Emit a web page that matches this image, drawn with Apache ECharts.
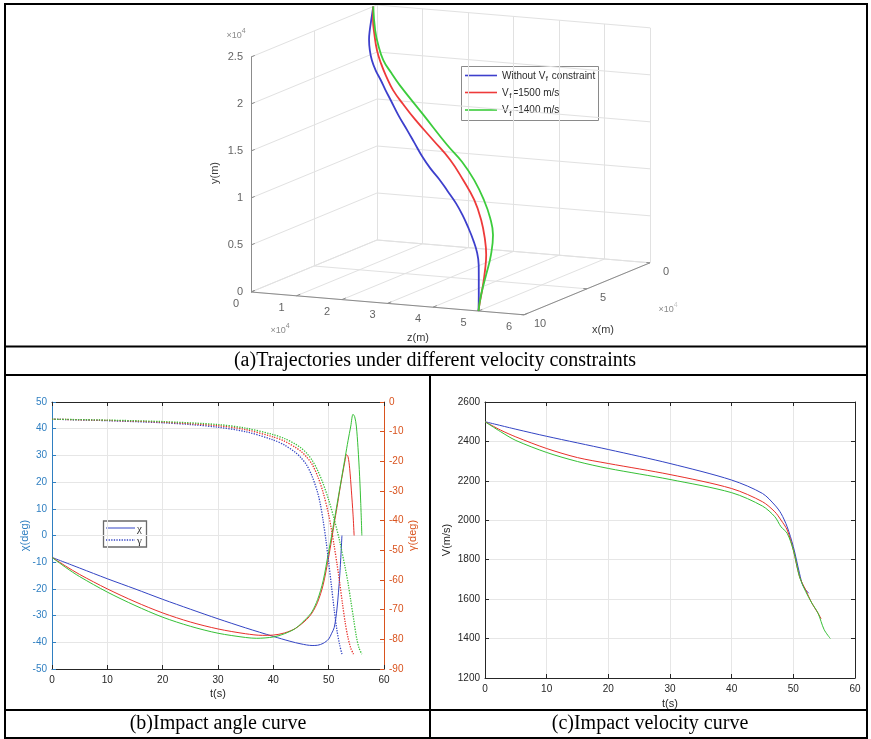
<!DOCTYPE html>
<html>
<head>
<meta charset="utf-8">
<script src="https://cdn.jsdelivr.net/npm/echarts@6/dist/echarts.min.js"></script>
<style>
  html, body { margin: 0; padding: 0; background: #fff; }
  #chart { width: 871px; height: 739px; }
</style>
</head>
<body>
<div id="chart"></div>
<script>
// ---------- (a) 3-D trajectories: z and y in 1e4 m, x in axis units ----------
const zTicks = [0, 1, 2, 3, 4, 5, 6];
const xTicks = [0, 5, 10];
const yTicks = [0, 0.5, 1, 1.5, 2, 2.5];

const noConstraintZ = [0, -0.08, -0.16, -0.20, -0.16, -0.06, 0.12, 0.35, 0.58, 0.82, 1.20, 1.61, 1.95, 2.32, 2.70, 3.12, 3.53, 3.93, 4.24, 4.50, 4.74, 4.93, 5.01, 5.02, 5.02, 5.00];
const noConstraintX = [0.30, 0.14, -0.01, -0.09, -0.01, 0.19, 0.54, 0.97, 1.43, 1.89, 2.63, 3.41, 4.08, 4.80, 5.53, 6.36, 7.15, 7.93, 8.53, 9.03, 9.49, 9.86, 10.02, 10.05, 10.05, 10.00];
const noConstraintY = [2.50, 2.37, 2.23, 2.12, 2.01, 1.92, 1.84, 1.77, 1.70, 1.63, 1.52, 1.42, 1.34, 1.25, 1.18, 1.13, 1.06, 0.99, 0.91, 0.82, 0.72, 0.61, 0.49, 0.37, 0.17, 0];

const vf1500Z = [0, -0.01, 0.06, 0.18, 0.37, 0.61, 0.94, 1.42, 1.99, 2.84, 3.65, 4.26, 4.79, 5.12, 5.31, 5.36, 5.31, 5.21, 5.07, 5.00];
const vf1500X = [0.30, 0.28, 0.42, 0.65, 1.02, 1.48, 2.12, 3.05, 4.15, 5.81, 7.38, 8.57, 9.58, 10.23, 10.60, 10.69, 10.60, 10.42, 10.14, 10.00];
const vf1500Y = [2.50, 2.36, 2.21, 2.06, 1.95, 1.85, 1.75, 1.67, 1.59, 1.50, 1.41, 1.29, 1.15, 0.99, 0.80, 0.65, 0.48, 0.29, 0.11, 0];

const vf1400Z = [0, 0.09, 0.23, 0.47, 0.85, 1.27, 2.37, 3.50, 4.22, 4.79, 5.26, 5.55, 5.69, 5.59, 5.36, 5.12, 5.00];
const vf1400X = [0.30, 0.47, 0.74, 1.20, 1.94, 2.77, 4.89, 7.10, 8.48, 9.58, 10.51, 11.06, 11.34, 11.15, 10.69, 10.23, 10.00];
const vf1400Y = [2.50, 2.26, 2.13, 2.00, 1.92, 1.85, 1.70, 1.55, 1.47, 1.36, 1.22, 1.07, 0.91, 0.68, 0.44, 0.19, 0];

// ---------- (b) impact angle: chi (left axis) and gamma (right axis) ----------
const chiBlueT = [0, 5, 10, 15, 20, 25, 30, 35, 40, 43, 45, 47, 48, 49, 50, 50.5, 51, 51.5, 52, 52.4];
const chiBlue  = [-8.2, -12.2, -16.2, -20.0, -23.9, -27.6, -31.2, -34.6, -37.8, -39.6, -40.6, -41.2, -41.1, -40.4, -38.8, -36.8, -34.5, -27.5, -15.0, 0];
const chiRedT = [0, 2.5, 5, 10, 15, 20, 25, 30, 35, 38, 40, 42, 44, 46, 47, 48, 49, 50, 50.5, 51, 51.5, 52, 52.5, 53, 53.2, 53.5, 53.8, 54.1, 54.4, 54.6];
const chiRed  = [-8.2, -11.5, -14.6, -20.0, -24.8, -29.0, -32.4, -35.0, -36.8, -37.4, -37.3, -36.5, -34.8, -31.5, -29.0, -25.0, -18.5, -8.0, -2.0, 4.5, 10.5, 17.0, 23.0, 28.5, 30.3, 29.5, 25.0, 17.0, 8.0, 0];
const chiGreenT = [0, 2.5, 5, 10, 15, 20, 25, 30, 35, 37, 40, 42, 44, 46, 47, 48, 49, 50, 50.5, 51, 51.5, 52, 52.5, 53, 53.5, 54, 54.4, 54.7, 55, 55.3, 55.6, 55.8, 56];
const chiGreen  = [-8.2, -12.0, -15.4, -21.2, -26.2, -30.6, -34.0, -36.6, -38.2, -38.5, -38.0, -36.8, -34.8, -31.0, -28.5, -24.0, -17.0, -6.0, -0.5, 5.5, 11.5, 17.5, 23.5, 29.5, 35.5, 41.0, 45.4, 44.5, 41.0, 33.0, 22.0, 12.0, 0];

const gammaBlueT = [0, 10, 20, 25, 30, 35, 40, 42, 44, 45, 46, 47, 48, 48.5, 49, 49.5, 50, 50.5, 51, 51.5, 52, 52.4];
const gammaBlue  = [-5.8, -6.3, -7.0, -7.6, -8.5, -10.0, -12.8, -14.5, -17.0, -18.8, -21.2, -25.0, -30.5, -34.5, -40.0, -46.5, -54.0, -62.0, -70.0, -77.0, -82.0, -85.0];
const gammaRedT = [0, 10, 20, 30, 35, 40, 42, 44, 45, 46, 47, 48, 49, 50, 50.5, 51, 51.5, 52, 52.5, 53, 53.5, 54, 54.5];
const gammaRed  = [-5.8, -6.2, -6.8, -8.0, -9.3, -11.8, -13.2, -15.3, -16.6, -18.5, -21.0, -25.0, -30.5, -38.0, -43.0, -48.5, -54.5, -61.0, -68.0, -74.5, -79.5, -83.0, -85.0];
const gammaGreenT = [0, 10, 20, 30, 35, 40, 42, 44, 45, 46, 47, 48, 49, 50, 51, 52, 53, 53.5, 54, 54.5, 55, 55.5, 56];
const gammaGreen  = [-5.8, -6.1, -6.6, -7.6, -8.8, -11.0, -12.3, -14.2, -15.5, -17.2, -19.6, -23.0, -27.5, -33.0, -39.5, -47.0, -56.0, -61.0, -67.0, -73.0, -79.0, -83.0, -85.0];

// ---------- (c) impact velocity ----------
const velBlueT = [0, 5, 10, 20, 30, 40, 45, 47, 48, 49, 50, 51, 51.5, 52, 52.5];
const velBlue  = [2500, 2462, 2426, 2359, 2288, 2204, 2136, 2077, 2035, 1967, 1866, 1731, 1672, 1647, 1630];
const velRedT = [0, 2.5, 5, 10, 15, 20, 30, 40, 45, 47, 48, 49, 50, 51, 52, 53, 54, 54.5];
const velRed  = [2500, 2458, 2423, 2364, 2318, 2288, 2232, 2161, 2094, 2043, 2001, 1951, 1849, 1714, 1647, 1580, 1529, 1500];
const velGreenT = [0, 2.5, 5, 10, 15, 20, 30, 40, 45, 47, 48, 49, 50, 51, 52, 53, 54, 55, 56];
const velGreen  = [2500, 2450, 2405, 2344, 2298, 2263, 2207, 2140, 2072, 2018, 1967, 1934, 1849, 1714, 1639, 1580, 1529, 1445, 1400];

// ---------- styling ----------
const C3 = { blue: '#3d3fcc', red: '#ee3a3a', green: '#3ccc3c' };
const C2 = { blue: '#3344c4', red: '#e8302a', green: '#36c036' };
const leftAxisColor = '#2f7fc1';
const rightAxisColor = '#d9531e';
const darkAxis = '#262626';
const gridGray = '#e6e6e6';
const sans = '"Liberation Sans", Arial, sans-serif';
const serif = '"Liberation Serif", "Times New Roman", serif';

// oblique view used for the 3-D box (pixels per axis unit)
const view = { ox: 377, oy: 240, zx: 45.5, zy: 3.8, xx: -12.6, xy: 5.2, yy: -94 };
const lim = { z: [0, 6], x: [0, 10], y: [0, 2.5] };
function project(z, x, y) {
  return [view.ox + view.zx * z + view.xx * x, view.oy + view.zy * z + view.xy * x + view.yy * y];
}
function seg(a, b) { return { coords: [project(a[0], a[1], a[2]), project(b[0], b[1], b[2])] }; }

// back planes grid of the 3-D box
const boxGrid = [];
zTicks.forEach(z => boxGrid.push(seg([z, lim.x[0], 0], [z, lim.x[1], 0])));
xTicks.forEach(x => boxGrid.push(seg([lim.z[0], x, 0], [lim.z[1], x, 0])));
yTicks.forEach(y => boxGrid.push(seg([0, lim.x[0], y], [0, lim.x[1], y])));
xTicks.forEach(x => boxGrid.push(seg([0, x, lim.y[0]], [0, x, lim.y[1]])));
yTicks.forEach(y => boxGrid.push(seg([lim.z[0], 0, y], [lim.z[1], 0, y])));
zTicks.forEach(z => boxGrid.push(seg([z, 0, lim.y[0]], [z, 0, lim.y[1]])));

// front axis lines and tick marks
const boxAxes = [
  seg([0, lim.x[1], lim.y[0]], [0, lim.x[1], lim.y[1]]),
  seg([lim.z[0], lim.x[1], 0], [lim.z[1], lim.x[1], 0]),
  seg([lim.z[1], lim.x[1], 0], [lim.z[1], lim.x[0], 0])
];
yTicks.forEach(y => boxAxes.push(seg([0, lim.x[1], y], [0, lim.x[1] - 0.3, y])));
zTicks.forEach(z => boxAxes.push(seg([z, lim.x[1], 0], [z, lim.x[1] - 0.3, 0])));
xTicks.forEach(x => boxAxes.push(seg([lim.z[1], x, 0], [lim.z[1] - 0.08, x, 0])));

function trajectory(zs, xs, ys) { return zs.map((z, i) => project(z, xs[i], ys[i])); }
function pairs(ts, vs) { return ts.map((t, i) => [t, vs[i]]); }

function tickLabels(points, label) {
  return {
    type: 'scatter', xAxisIndex: 0, yAxisIndex: 0, symbolSize: 0, silent: true, z: 5,
    data: points.map(p => ({ value: p.pos, label: { formatter: p.text } })),
    label: Object.assign({ show: true, color: '#3a3a3a', fontSize: 11, fontFamily: sans }, label)
  };
}

const chart = echarts.init(document.getElementById('chart'), null, { renderer: 'canvas' });

const hidden = { show: false };
const insideTick = (color) => ({ show: true, inside: true, length: 4, lineStyle: { color } });
const plain = v => String(v);

const legendRich = {
  n: { fontSize: 10, fontFamily: sans, fill: '#2a2a2a', lineHeight: 14, verticalAlign: 'middle' },
  s: { fontSize: 8, fontFamily: sans, fill: '#2a2a2a', lineHeight: 14, verticalAlign: 'bottom', padding: [0, 1, 0, 0.5] }
};
const expRich = (c) => ({
  b: { fontSize: 9, fontFamily: sans, fill: '#8a8a8a', lineHeight: 12, verticalAlign: 'bottom' },
  s: { fontSize: 7, fontFamily: sans, fill: c, lineHeight: 12, verticalAlign: 'top' }
});

const option = {
  animation: false,
  backgroundColor: '#fff',
  grid: [
    { left: 0, top: 0, width: 871, height: 346 },
    { left: 52, top: 402, width: 332, height: 267 },
    { left: 485, top: 402, width: 370, height: 276 }
  ],
  xAxis: [
    { gridIndex: 0, type: 'value', min: 0, max: 871, show: false },
    { gridIndex: 1, type: 'value', min: 0, max: 60, interval: 10, position: 'bottom',
      axisLine: { onZero: false, lineStyle: { color: darkAxis } }, axisTick: insideTick(darkAxis),
      axisLabel: { color: darkAxis, fontSize: 10, fontFamily: sans, margin: 6, formatter: plain },
      splitLine: { show: true, lineStyle: { color: gridGray } },
      name: 't(s)', nameLocation: 'middle', nameGap: 19, nameTextStyle: { color: darkAxis, fontSize: 11, fontFamily: sans } },
    { gridIndex: 1, type: 'value', min: 0, max: 60, interval: 10, position: 'top',
      axisLine: { onZero: false, lineStyle: { color: darkAxis } }, axisTick: insideTick(darkAxis),
      axisLabel: hidden, splitLine: hidden },
    { gridIndex: 2, type: 'value', min: 0, max: 60, interval: 10, position: 'bottom',
      axisLine: { onZero: false, lineStyle: { color: darkAxis } }, axisTick: insideTick(darkAxis),
      axisLabel: { color: darkAxis, fontSize: 10, fontFamily: sans, margin: 6, formatter: plain },
      splitLine: { show: true, lineStyle: { color: gridGray } },
      name: 't(s)', nameLocation: 'middle', nameGap: 20, nameTextStyle: { color: darkAxis, fontSize: 11, fontFamily: sans } },
    { gridIndex: 2, type: 'value', min: 0, max: 60, interval: 10, position: 'top',
      axisLine: { onZero: false, lineStyle: { color: darkAxis } }, axisTick: insideTick(darkAxis),
      axisLabel: hidden, splitLine: hidden }
  ],
  yAxis: [
    { gridIndex: 0, type: 'value', min: 0, max: 346, inverse: true, show: false },
    { gridIndex: 1, type: 'value', min: -50, max: 50, interval: 10, position: 'left',
      axisLine: { onZero: false, lineStyle: { color: leftAxisColor } }, axisTick: insideTick(leftAxisColor),
      axisLabel: { color: leftAxisColor, fontSize: 10, fontFamily: sans, margin: 5, formatter: plain },
      splitLine: { show: true, lineStyle: { color: gridGray } },
      name: 'χ(deg)', nameLocation: 'middle', nameRotate: 90, nameGap: 21.5, nameMoveOverlap: false,
      nameTextStyle: { color: leftAxisColor, fontSize: 11, fontFamily: sans } },
    { gridIndex: 1, type: 'value', min: -90, max: 0, interval: 10, position: 'right',
      axisLine: { onZero: false, lineStyle: { color: rightAxisColor } }, axisTick: insideTick(rightAxisColor),
      axisLabel: { color: rightAxisColor, fontSize: 10, fontFamily: sans, margin: 5, formatter: plain },
      splitLine: hidden,
      name: 'γ(deg)', nameLocation: 'middle', nameRotate: 90, nameGap: 23.5, nameMoveOverlap: false,
      nameTextStyle: { color: rightAxisColor, fontSize: 11, fontFamily: sans } },
    { gridIndex: 2, type: 'value', min: 1200, max: 2600, interval: 200, position: 'left',
      axisLine: { onZero: false, lineStyle: { color: darkAxis } }, axisTick: insideTick(darkAxis),
      axisLabel: { color: darkAxis, fontSize: 10, fontFamily: sans, margin: 5, formatter: plain },
      splitLine: { show: true, lineStyle: { color: gridGray } },
      name: 'V(m/s)', nameLocation: 'middle', nameRotate: 90, nameGap: 32.5, nameMoveOverlap: false,
      nameTextStyle: { color: darkAxis, fontSize: 11, fontFamily: sans } },
    { gridIndex: 2, type: 'value', min: 1200, max: 2600, interval: 200, position: 'right',
      axisLine: { onZero: false, lineStyle: { color: darkAxis } }, axisTick: insideTick(darkAxis),
      axisLabel: hidden, splitLine: hidden }
  ],
  series: [
    // (a) box grid, axes, trajectories, tick labels
    { type: 'lines', coordinateSystem: 'cartesian2d', xAxisIndex: 0, yAxisIndex: 0, silent: true, z: 1,
      data: boxGrid, lineStyle: { color: '#e1e1e1', width: 1, opacity: 1 } },
    { type: 'lines', coordinateSystem: 'cartesian2d', xAxisIndex: 0, yAxisIndex: 0, silent: true, z: 2,
      data: boxAxes, lineStyle: { color: '#8c8c8c', width: 1, opacity: 1 } },
    { type: 'line', name: 'Without Vf constraint', xAxisIndex: 0, yAxisIndex: 0, smooth: 0.45, symbol: 'none', z: 3,
      data: trajectory(noConstraintZ, noConstraintX, noConstraintY), lineStyle: { color: C3.blue, width: 1.8 } },
    { type: 'line', name: 'Vf=1500 m/s', xAxisIndex: 0, yAxisIndex: 0, smooth: 0.45, symbol: 'none', z: 3,
      data: trajectory(vf1500Z, vf1500X, vf1500Y), lineStyle: { color: C3.red, width: 1.8 } },
    { type: 'line', name: 'Vf=1400 m/s', xAxisIndex: 0, yAxisIndex: 0, smooth: 0.45, symbol: 'none', z: 3,
      data: trajectory(vf1400Z, vf1400X, vf1400Y), lineStyle: { color: C3.green, width: 1.8 } },
    tickLabels(yTicks.map(y => ({ pos: project(0, lim.x[1], y), text: String(y) })), { position: 'left', distance: 8 }),
    tickLabels(zTicks.map(z => ({ pos: project(z, lim.x[1], 0), text: String(z) })), { position: 'inside', offset: [-15, 12] }),
    tickLabels(xTicks.map(x => ({ pos: project(lim.z[1], x, 0), text: String(x) })), { position: 'inside', offset: [16, 9] }),

    // (b) impact angle
    { type: 'line', name: 'χ', xAxisIndex: 1, yAxisIndex: 1, symbol: 'none', smooth: 0.3, data: pairs(chiBlueT, chiBlue), lineStyle: { color: C2.blue, width: 1 } },
    { type: 'line', name: 'χ', xAxisIndex: 1, yAxisIndex: 1, symbol: 'none', smooth: 0.3, data: pairs(chiRedT, chiRed), lineStyle: { color: C2.red, width: 1 } },
    { type: 'line', name: 'χ', xAxisIndex: 1, yAxisIndex: 1, symbol: 'none', smooth: 0.3, data: pairs(chiGreenT, chiGreen), lineStyle: { color: C2.green, width: 1 } },
    { type: 'line', name: 'γ', xAxisIndex: 1, yAxisIndex: 2, symbol: 'none', smooth: 0.3, data: pairs(gammaBlueT, gammaBlue), lineStyle: { color: C2.blue, width: 1.3, type: [1.3, 1.3] } },
    { type: 'line', name: 'γ', xAxisIndex: 1, yAxisIndex: 2, symbol: 'none', smooth: 0.3, data: pairs(gammaRedT, gammaRed), lineStyle: { color: C2.red, width: 1.3, type: [1.3, 1.3] } },
    { type: 'line', name: 'γ', xAxisIndex: 1, yAxisIndex: 2, symbol: 'none', smooth: 0.3, data: pairs(gammaGreenT, gammaGreen), lineStyle: { color: C2.green, width: 1.3, type: [1.3, 1.3] } },

    // (c) impact velocity
    { type: 'line', xAxisIndex: 3, yAxisIndex: 3, symbol: 'none', smooth: 0.3, data: pairs(velBlueT, velBlue), lineStyle: { color: C2.blue, width: 1 } },
    { type: 'line', xAxisIndex: 3, yAxisIndex: 3, symbol: 'none', smooth: 0.3, data: pairs(velRedT, velRed), lineStyle: { color: C2.red, width: 1 } },
    { type: 'line', xAxisIndex: 3, yAxisIndex: 3, symbol: 'none', smooth: 0.3, data: pairs(velGreenT, velGreen), lineStyle: { color: C2.green, width: 1 } }
  ],
  graphic: [
    // table frame
    { type: 'rect', z: 100, shape: { x: 5, y: 4, width: 862, height: 734 }, style: { fill: 'none', stroke: '#000', lineWidth: 2 } },
    { type: 'line', z: 100, shape: { x1: 5, y1: 346.5, x2: 867, y2: 346.5 }, style: { stroke: '#000', lineWidth: 2 } },
    { type: 'line', z: 100, shape: { x1: 5, y1: 375, x2: 867, y2: 375 }, style: { stroke: '#000', lineWidth: 2 } },
    { type: 'line', z: 100, shape: { x1: 5, y1: 710, x2: 867, y2: 710 }, style: { stroke: '#000', lineWidth: 2 } },
    { type: 'line', z: 100, shape: { x1: 430, y1: 375, x2: 430, y2: 738 }, style: { stroke: '#000', lineWidth: 2 } },
    // captions
    { type: 'text', z: 100, x: 435, y: 361, style: { text: '(a)Trajectories under different velocity constraints', font: '20px ' + serif, fill: '#000', align: 'center', verticalAlign: 'middle' } },
    { type: 'text', z: 100, x: 218, y: 724, style: { text: '(b)Impact angle curve', font: '20px ' + serif, fill: '#000', align: 'center', verticalAlign: 'middle' } },
    { type: 'text', z: 100, x: 650, y: 724, style: { text: '(c)Impact velocity curve', font: '20px ' + serif, fill: '#000', align: 'center', verticalAlign: 'middle' } },

    // (a) axis titles and exponents
    { type: 'text', z: 10, x: 215, y: 173, rotation: Math.PI / 2, style: { text: 'y(m)', font: '11px ' + sans, fill: '#3a3a3a', align: 'center', verticalAlign: 'middle' } },
    { type: 'text', z: 10, x: 418, y: 338, style: { text: 'z(m)', font: '11px ' + sans, fill: '#3a3a3a', align: 'center', verticalAlign: 'middle' } },
    { type: 'text', z: 10, x: 603, y: 330, style: { text: 'x(m)', font: '11px ' + sans, fill: '#3a3a3a', align: 'center', verticalAlign: 'middle' } },
    { type: 'text', z: 10, x: 236, y: 34, style: { text: '{b|×10}{s|4}', align: 'center', verticalAlign: 'middle', rich: expRich('#8a8a8a') } },
    { type: 'text', z: 10, x: 280, y: 329, style: { text: '{b|×10}{s|4}', align: 'center', verticalAlign: 'middle', rich: expRich('#8a8a8a') } },
    { type: 'text', z: 10, x: 668, y: 308, style: { text: '{b|×10}{s|4}', align: 'center', verticalAlign: 'middle', rich: expRich('#c8c8c8') } },

    // (a) legend
    { type: 'group', z: 20, children: [
      { type: 'rect', shape: { x: 461.5, y: 66.5, width: 137, height: 54 }, style: { fill: '#fff', stroke: '#8a8a8a', lineWidth: 1 } },
      { type: 'line', shape: { x1: 465, y1: 75.5, x2: 497, y2: 75.5 }, style: { stroke: C3.blue, lineWidth: 1.6 } },
      { type: 'line', shape: { x1: 465, y1: 92.5, x2: 497, y2: 92.5 }, style: { stroke: C3.red, lineWidth: 1.6 } },
      { type: 'line', shape: { x1: 465, y1: 110, x2: 497, y2: 110 }, style: { stroke: C3.green, lineWidth: 1.6 } },
      { type: 'text', x: 502, y: 76, style: { text: '{n|Without V}{s|f}{n| constraint}', verticalAlign: 'middle', rich: legendRich } },
      { type: 'text', x: 502, y: 93, style: { text: '{n|V}{s|f}{n|=1500 m/s}', verticalAlign: 'middle', rich: legendRich } },
      { type: 'text', x: 502, y: 110.5, style: { text: '{n|V}{s|f}{n|=1400 m/s}', verticalAlign: 'middle', rich: legendRich } }
    ] },

    // (b) legend
    { type: 'group', z: 20, children: [
      { type: 'rect', shape: { x: 103.5, y: 521, width: 43, height: 26 }, style: { fill: '#fff', stroke: '#6a6a6a', lineWidth: 1.3 } },
      { type: 'line', shape: { x1: 106, y1: 528, x2: 135, y2: 528 }, style: { stroke: C2.blue, lineWidth: 1 } },
      { type: 'line', shape: { x1: 106, y1: 540, x2: 135, y2: 540 }, style: { stroke: C2.blue, lineWidth: 1.3, lineDash: [1.3, 1.3] } },
      { type: 'text', x: 137, y: 529, style: { text: 'χ', font: '11px ' + serif, fill: '#333', verticalAlign: 'middle' } },
      { type: 'text', x: 137, y: 541, style: { text: 'γ', font: '11px ' + serif, fill: '#333', verticalAlign: 'middle' } }
    ] }
  ]
};

chart.setOption(option);
</script>
</body>
</html>
